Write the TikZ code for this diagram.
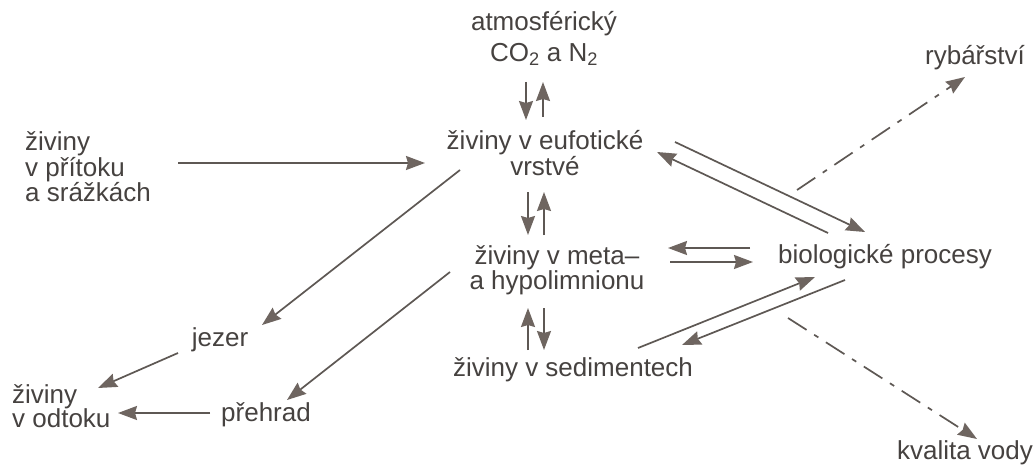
\documentclass[tikz,border=0pt]{standalone}
\usepackage{fontspec}
\setmainfont{Liberation Sans}
\usetikzlibrary{arrows.meta,calc}
\definecolor{txt}{HTML}{464240}
\definecolor{ln}{HTML}{5E5854}
\definecolor{tip}{HTML}{6E6560}
\begin{document}
\begin{tikzpicture}[x=1pt,y=-1pt,
  lbl/.style={inner sep=0pt,text=txt,font=\fontsize{26}{24.5}\selectfont},
  arr/.style={draw=ln,line width=1.7pt,-{Stealth[length=19pt,width=14pt,inset=2pt,color=tip]}},
  dd/.style={arr,dash pattern=on 22pt off 9pt on 5pt off 9pt}]
\useasboundingbox (0,0) rectangle (1035,465);
\fill[white] (0,0) rectangle (1035,465);
\node[lbl,align=center,font=\fontsize{26}{31}\selectfont] (atm) at (544,38) {atmosférický\\CO\textsubscript{2} a N\textsubscript{2}};
\node[lbl,align=center] (eu) at (545,153) {živiny v eufotické\\vrstvé};
\node[lbl,align=left,anchor=west] (in) at (25,167) {živiny\\v přítoku\\a srážkách};
\node[lbl,align=center] (meta) at (557,270) {živiny v meta–\\a hypolimnionu};
\node[lbl] (sed) at (573,370) {živiny v sedimentech};
\node[lbl] (bio) at (885,257) {biologické procesy};
\node[lbl] (ryb) at (975,58) {rybářství};
\node[lbl] (kval) at (965,453) {kvalita vody};
\node[lbl] (jez) at (220,340) {jezer};
\node[lbl,align=left,anchor=west] (odt) at (12,406) {živiny\\v odtoku};
\node[lbl] (preh) at (266,415) {přehrad};
% vertical pairs
\draw[arr] ($(atm)+(-18,44)$) -- ($(eu)+(-19,-33)$);
\draw[arr] ($(eu)+(-2,-36)$) -- ($(atm)+(-1,44)$);
\draw[arr] ($(eu)+(-17,39)$) -- ($(meta)+(-29,-35)$);
\draw[arr] ($(meta)+(-13,-35)$) -- ($(eu)+(-1,39)$);
\draw[arr] ($(sed)+(-45,-20)$) -- ($(meta)+(-29,38)$);
\draw[arr] ($(meta)+(-13,38)$) -- ($(sed)+(-29,-20)$);
% left side
\draw[arr] ($(in.west)+(153,-4)$) -- ($(eu)+(-120,10)$);
\draw[arr] ($(eu)+(-85,17)$) -- ($(jez)+(42,-15)$);
\draw[arr] ($(meta)+(-107,2)$) -- ($(preh)+(21,-15)$);
\draw[arr] ($(jez)+(-42,13)$) -- ($(odt.west)+(86,-18)$);
\draw[arr] ($(preh)+(-56,-2)$) -- ($(odt.west)+(106,7)$);
% right side
\draw[arr] ($(bio)+(-135,-9)$) -- ($(meta)+(111,-22)$);
\draw[arr] ($(meta)+(113,-8)$) -- ($(bio)+(-132,5)$);
\draw[arr] ($(eu)+(130,-11)$) -- ($(bio)+(-20,-25)$);
\draw[arr] ($(bio)+(-57,-24)$) -- ($(eu)+(112,-1)$);
\draw[arr] ($(sed)+(65,-22)$) -- ($(bio)+(-70,20)$);
\draw[arr] ($(bio)+(-40,23)$) -- ($(sed)+(109,-25)$);
\draw[dd] ($(bio)+(-88,-67)$) -- ($(ryb)+(-10,19)$);
\draw[dd] ($(bio)+(-97,61)$) -- ($(kval)+(12,-14)$);
\end{tikzpicture}
\end{document}
